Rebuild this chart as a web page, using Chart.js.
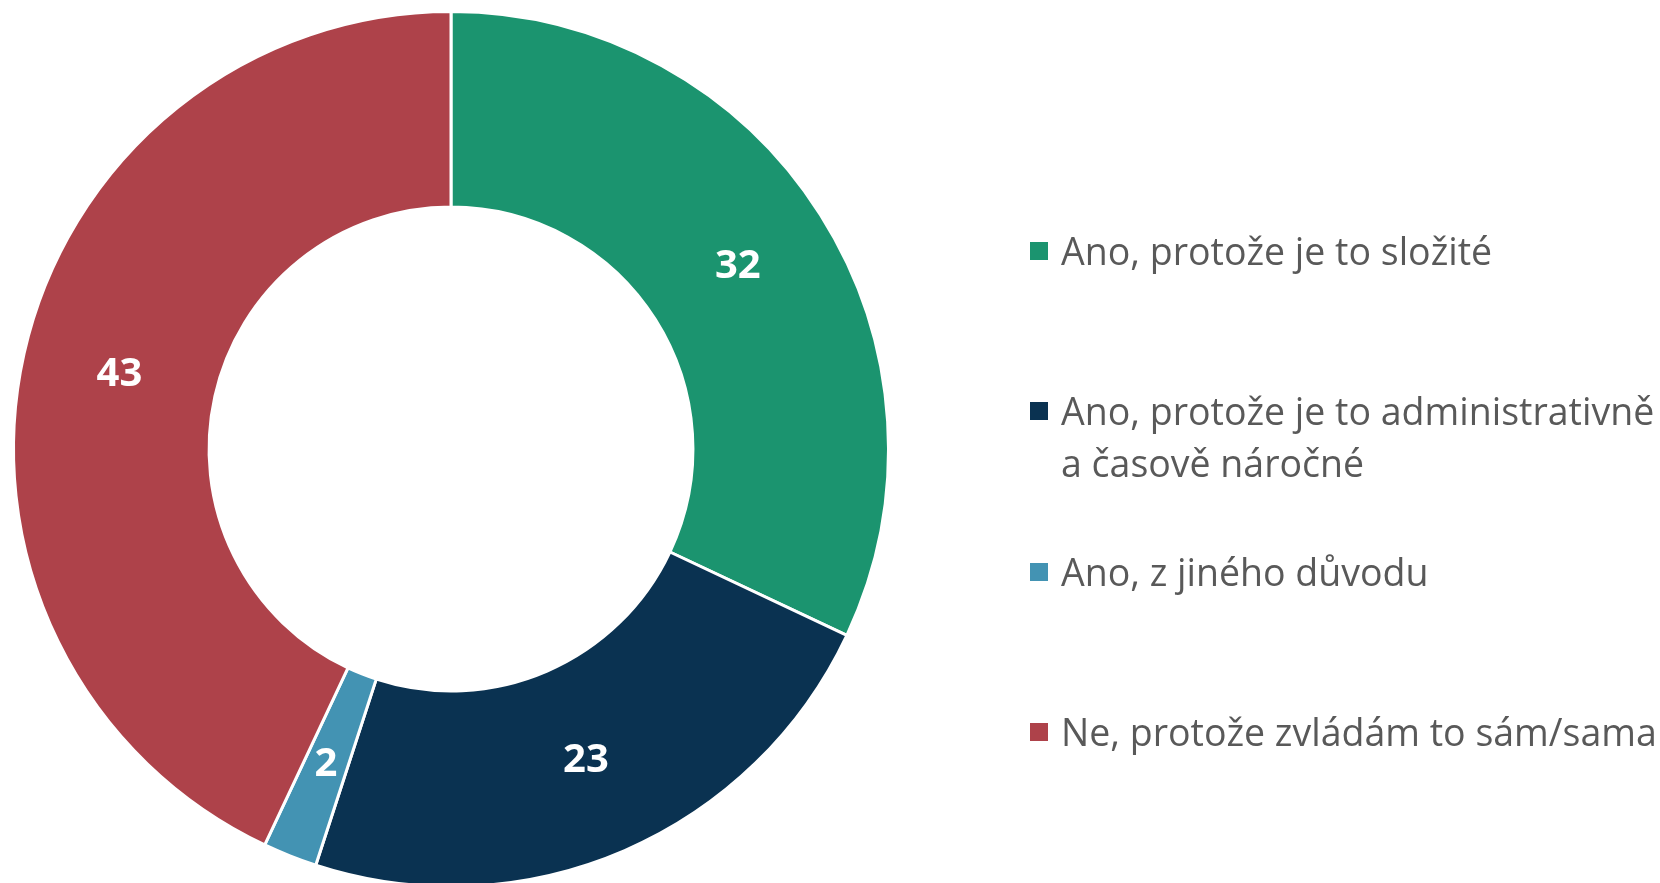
<!DOCTYPE html>
<html>
<head>
<meta charset="utf-8">
<script src="https://cdn.jsdelivr.net/npm/chart.js@4/dist/chart.umd.min.js"></script>
<style>
  html, body { margin: 0; padding: 0; background: #fff; overflow: hidden; }
  #wrap { position: relative; width: 1660px; height: 883px; overflow: hidden; }
  #c { position: absolute; left: 0; top: 0; }
  #legend { position: absolute; left: 1030px; top: 0; font-family: "Open Sans", sans-serif; color: #595959; }
  .item { position: absolute; left: 0; white-space: nowrap; font-size: 37.5px; line-height: 52px; }
  .sw { position: absolute; left: 0; width: 18px; height: 18px; }
  .txt { position: absolute; left: 31px; }
</style>
</head>
<body>
<div id="wrap">
  <canvas id="c" width="1660" height="900"></canvas>
  <div id="legend"></div>
</div>
<script>
const categories = [
  "Ano, protože je to složité",
  "Ano, protože je to administrativně\na časově náročné",
  "Ano, z jiného důvodu",
  "Ne, protože zvládám to sám/sama"
];
const values = [32, 23, 2, 43];
const colors = ["#1B946F", "#0A3251", "#4393B3", "#AE424A"];
const legendCenters = [251, 411, 572, 732];

const valueLabels = {
  id: 'valueLabels',
  afterDatasetsDraw(chart) {
    const ctx = chart.ctx;
    const meta = chart.getDatasetMeta(0);
    ctx.save();
    ctx.fillStyle = '#ffffff';
    ctx.font = 'bold 40px "Open Sans", sans-serif';
    ctx.textAlign = 'center';
    ctx.textBaseline = 'middle';
    meta.data.forEach((arc, i) => {
      const p = arc.tooltipPosition();
      ctx.fillText(String(chart.data.datasets[0].data[i]), p.x, p.y);
    });
    ctx.restore();
  }
};

new Chart(document.getElementById('c'), {
  type: 'doughnut',
  data: {
    labels: categories,
    datasets: [{
      data: values,
      backgroundColor: colors,
      borderColor: '#ffffff',
      borderWidth: 3
    }]
  },
  options: {
    responsive: false,
    animation: false,
    cutout: '55.3%',
    layout: { padding: { left: 12, top: 10, right: 770, bottom: 12 } },
    plugins: {
      legend: { display: false },
      tooltip: { enabled: false }
    }
  },
  plugins: [valueLabels]
});

const legend = document.getElementById('legend');
categories.forEach((name, i) => {
  const lines = name.split('\n');
  const item = document.createElement('div');
  item.className = 'item';
  item.style.top = (legendCenters[i] - 26) + 'px';
  const sw = document.createElement('div');
  sw.className = 'sw';
  sw.style.background = colors[i];
  sw.style.top = '17px';
  const txt = document.createElement('div');
  txt.className = 'txt';
  txt.innerHTML = lines.map(l => l.replace(/&/g, '&amp;').replace(/</g, '&lt;')).join('<br>');
  item.appendChild(sw);
  item.appendChild(txt);
  legend.appendChild(item);
});
</script>
</body>
</html>
